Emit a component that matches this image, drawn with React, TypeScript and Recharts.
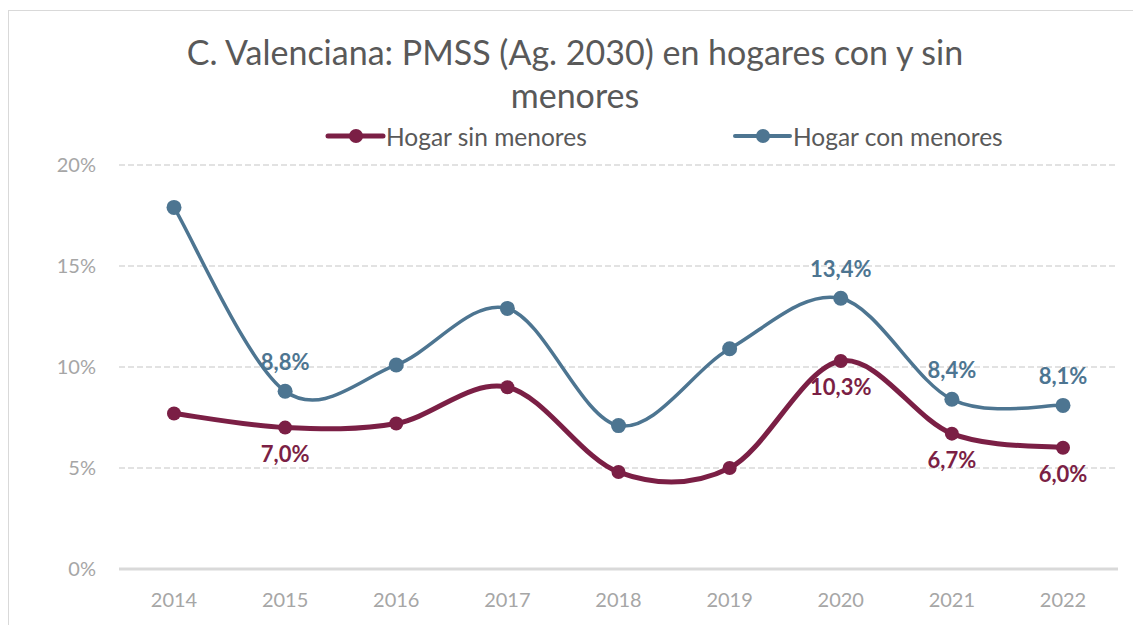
import React from "react";
import { LineChart, Line, XAxis, YAxis, CartesianGrid, LabelList } from "recharts";

const years = ["2014", "2015", "2016", "2017", "2018", "2019", "2020", "2021", "2022"];
const sinMenores = [7.7, 7.0, 7.2, 9.0, 4.8, 5.0, 10.3, 6.7, 6.0];
const conMenores = [17.9, 8.8, 10.1, 12.9, 7.1, 10.9, 13.4, 8.4, 8.1];
const sinLabeled = ["2015", "2020", "2021", "2022"];
const conLabeled = ["2015", "2020", "2021", "2022"];
const yTicks = [0, 5, 10, 15, 20];

const data = years.map((year, i) => ({ year, sin: sinMenores[i], con: conMenores[i] }));

const MAROON = "#7b1f45";
const BLUE = "#4d7591";
const FONT = "Lato, 'Open Sans', sans-serif";

// Excel-style smoothed line (Catmull-Rom through every point).
function excelCurve(context: any) {
  let pts: [number, number][] = [];
  return {
    areaStart() {},
    areaEnd() {},
    lineStart() {
      pts = [];
    },
    point(x: number, y: number) {
      pts.push([+x, +y]);
    },
    lineEnd() {
      if (!pts.length) return;
      context.moveTo(pts[0][0], pts[0][1]);
      for (let i = 0; i < pts.length - 1; i++) {
        const p0 = pts[i - 1] || pts[i];
        const p1 = pts[i];
        const p2 = pts[i + 1];
        const p3 = pts[i + 2] || p2;
        context.bezierCurveTo(
          p1[0] + (p2[0] - p0[0]) / 6,
          p1[1] + (p2[1] - p0[1]) / 6,
          p2[0] - (p3[0] - p1[0]) / 6,
          p2[1] - (p3[1] - p1[1]) / 6,
          p2[0],
          p2[1]
        );
      }
    },
  };
}

const fmt = (v: number) => `${v.toFixed(1).replace(".", ",")}%`;

function makeLabel(shown: string[], color: string, dy: number) {
  return (props: any) => {
    const { x, y, value, index } = props;
    if (!shown.includes(years[index])) return null;
    return (
      <text
        x={x}
        y={y + dy}
        textAnchor="middle"
        dominantBaseline="central"
        fill={color}
        fontSize={22}
        fontWeight={700}
        fontFamily={FONT}
      >
        {fmt(value)}
      </text>
    );
  };
}

function LegendRow() {
  const items = [
    { name: "Hogar sin menores", color: MAROON, x: 319, w: 5 },
    { name: "Hogar con menores", color: BLUE, x: 726, w: 4 },
  ];
  return (
    <svg width={1132} height={30} style={{ position: "absolute", left: 0, top: 110 }}>
      {items.map((it) => (
        <g key={it.name}>
          <line x1={it.x} x2={it.x + 55} y1={15} y2={15} stroke={it.color} strokeWidth={it.w} strokeLinecap="round" />
          <circle cx={it.x + 28} cy={15} r={7} fill={it.color} />
          <text x={it.x + 58} y={15} dominantBaseline="central" fill="#595959" fontSize={24.5} fontFamily={FONT}>
            {it.name}
          </text>
        </g>
      ))}
    </svg>
  );
}

export default function App() {
  return (
    <div
      style={{
        position: "relative",
        width: 1133,
        height: 615,
        marginTop: 2,
        borderTop: "1px solid #d9d9d9",
        borderLeft: "1px solid #d9d9d9",
        fontFamily: FONT,
        background: "#fff",
      }}
    >
      <div
        style={{
          position: "absolute",
          left: 0,
          top: 19,
          width: 1132,
          textAlign: "center",
          fontSize: 34,
          lineHeight: "43px",
          color: "#595959",
        }}
      >
        C. Valenciana: PMSS (Ag. 2030) en hogares con y sin
        <br />
        menores
      </div>
      <LegendRow />
      <LineChart
        width={1132}
        height={614}
        data={data}
        margin={{ top: 154, right: 23, bottom: 16, left: 50 }}
      >
        <CartesianGrid vertical={false} stroke="#d9d9d9" strokeDasharray="6 3" strokeWidth={1.5} />
        <XAxis
          dataKey="year"
          padding={{ left: 55, right: 55 }}
          tickLine={false}
          axisLine={{ stroke: "#d9d9d9", strokeWidth: 3 }}
          tick={{ fill: "#a6a6a6", fontSize: 20, fontFamily: FONT }}
          tickMargin={18}
          height={40}
        />
        <YAxis
          domain={[0, 20]}
          ticks={yTicks}
          tickFormatter={(v) => `${v}%`}
          tickLine={false}
          axisLine={false}
          tick={{ fill: "#a6a6a6", fontSize: 20, fontFamily: FONT }}
          tickMargin={17}
          width={60}
        />
        <Line
          dataKey="sin"
          type={excelCurve as any}
          stroke={MAROON}
          strokeWidth={5}
          dot={{ r: 7, fill: MAROON, stroke: "none" }}
          activeDot={false}
          isAnimationActive={false}
        >
          <LabelList dataKey="sin" content={makeLabel(sinLabeled, MAROON, 26)} />
        </Line>
        <Line
          dataKey="con"
          type={excelCurve as any}
          stroke={BLUE}
          strokeWidth={3.5}
          dot={{ r: 7.5, fill: BLUE, stroke: "none" }}
          activeDot={false}
          isAnimationActive={false}
        >
          <LabelList dataKey="con" content={makeLabel(conLabeled, BLUE, -30)} />
        </Line>
      </LineChart>
    </div>
  );
}
